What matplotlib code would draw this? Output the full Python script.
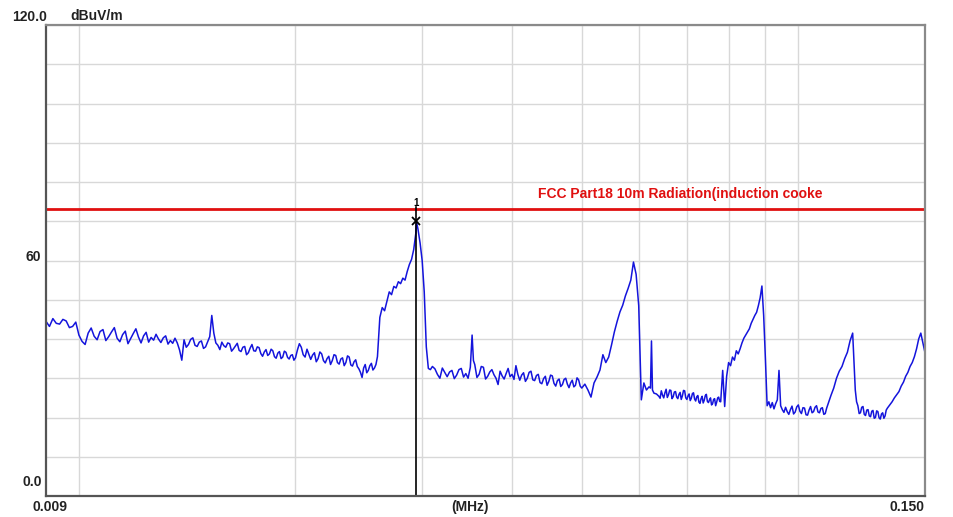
import numpy as np
import matplotlib
matplotlib.use("Agg")
import matplotlib.pyplot as plt

plt.rcParams["font.family"] = ["Liberation Sans", "DejaVu Sans"]

# spectrum trace, (frequency in kHz, level in dBuV/m)
trace_9_20 = [(9.0, 44.5), (9.1, 43.2), (9.2, 45.2), (9.3, 44.0), (9.4, 43.8), (9.5, 45.0),
              (9.6, 44.6), (9.7, 42.9), (9.8, 43.2), (9.9, 44.3), (10.0, 41.0), (10.1, 39.4),
              (10.2, 38.6), (10.3, 41.5), (10.4, 42.8), (10.5, 40.7), (10.6, 39.8), (10.7, 41.9),
              (10.8, 42.4), (10.9, 39.6), (11.0, 40.6), (11.1, 41.8), (11.2, 42.9), (11.3, 40.2),
              (11.4, 39.3), (11.5, 41.1), (11.6, 42.0), (11.7, 38.8), (11.8, 40.1), (11.9, 41.4),
              (12.0, 42.6), (12.1, 40.5), (12.2, 39.0), (12.3, 40.8), (12.4, 41.7), (12.5, 39.2),
              (12.6, 40.4), (12.7, 39.7), (12.8, 41.2), (12.9, 40.0), (13.0, 39.1), (13.1, 40.3),
              (13.2, 40.8), (13.3, 38.7), (13.4, 39.6), (13.5, 38.9), (13.6, 40.2), (13.7, 39.0),
              (13.8, 37.2), (13.9, 34.6), (14.0, 39.8), (14.1, 37.9), (14.2, 38.6), (14.3, 39.9),
              (14.4, 40.3), (14.5, 38.4), (14.6, 38.1), (14.7, 39.2), (14.8, 39.5), (14.9, 37.6),
              (15.0, 38.0), (15.1, 39.3), (15.2, 40.6), (15.3, 46.0), (15.4, 41.5), (15.5, 39.0),
              (15.6, 38.4), (15.7, 37.3), (15.8, 39.2), (15.9, 38.3), (16.0, 37.9), (16.1, 39.0),
              (16.2, 38.8), (16.3, 36.9), (16.4, 37.5), (16.5, 38.2), (16.6, 38.9), (16.7, 37.1),
              (16.8, 36.8), (16.9, 37.9), (17.0, 38.1), (17.1, 36.0), (17.2, 36.5), (17.3, 37.7),
              (17.4, 38.6), (17.5, 37.0), (17.6, 36.9), (17.7, 38.0), (17.8, 37.8), (17.9, 36.3),
              (18.0, 35.6), (18.1, 36.7), (18.2, 37.3), (18.3, 35.8), (18.4, 36.2), (18.5, 37.4),
              (18.6, 37.0), (18.7, 35.5), (18.8, 35.1), (18.9, 36.4), (19.0, 36.8), (19.1, 35.0),
              (19.2, 35.4), (19.3, 36.9), (19.4, 36.6), (19.5, 35.3), (19.6, 34.9), (19.7, 35.8),
              (19.8, 36.0), (19.9, 34.6), (20.0, 35.2)]
trace_20_26 = [(20.125, 37.2), (20.25, 38.8), (20.375, 37.9), (20.5, 36.0), (20.625, 35.4),
               (20.75, 37.4), (20.875, 36.1), (21.0, 34.8), (21.125, 35.9), (21.25, 36.5),
               (21.375, 34.2), (21.5, 35.0), (21.625, 36.7), (21.75, 36.2), (21.875, 34.5),
               (22.0, 33.9), (22.125, 35.0), (22.25, 35.6), (22.375, 33.5), (22.5, 34.5),
               (22.625, 36.0), (22.75, 35.8), (22.875, 34.0), (23.0, 33.6), (23.125, 34.9),
               (23.25, 35.2), (23.375, 33.2), (23.5, 34.0), (23.625, 35.7), (23.75, 35.4),
               (23.875, 33.4), (24.0, 33.1), (24.125, 34.2), (24.25, 34.7), (24.375, 33.0),
               (24.5, 32.4), (24.625, 31.5), (24.75, 30.2), (24.875, 32.6), (25.0, 33.5),
               (25.125, 31.4), (25.25, 32.0), (25.375, 33.2), (25.5, 33.8), (25.625, 32.1),
               (25.75, 32.6), (25.875, 33.5), (26.0, 35.5)]
trace_26_31 = [(26.2, 45.5), (26.4, 48.0), (26.6, 47.2), (26.8, 49.6), (27.0, 52.0), (27.2, 51.3),
               (27.4, 53.4), (27.6, 53.0), (27.8, 54.6), (28.0, 54.1), (28.2, 55.5), (28.4, 55.0),
               (28.6, 57.2), (28.8, 59.0), (29.0, 60.3), (29.2, 62.8), (29.4, 67.0), (29.45, 70.0),
               (29.6, 68.0), (29.8, 64.5), (30.0, 60.0), (30.2, 52.0), (30.4, 38.0), (30.6, 32.5),
               (30.8, 32.2), (31.0, 33.0)]
trace_31_50 = [(31.25, 32.4), (31.5, 31.0), (31.75, 30.0), (32.0, 32.6), (32.25, 31.5),
               (32.5, 30.4), (32.75, 31.6), (33.0, 32.0), (33.25, 29.9), (33.5, 30.8),
               (33.75, 32.2), (34.0, 32.5), (34.25, 30.3), (34.5, 31.2), (34.75, 30.0),
               (35.0, 32.8), (35.2, 41.0), (35.35, 34.5), (35.5, 33.5), (35.75, 30.2),
               (36.0, 31.0), (36.25, 33.0), (36.5, 32.8), (36.75, 29.8), (37.0, 30.5),
               (37.25, 31.6), (37.5, 32.2), (37.75, 30.9), (38.0, 30.0), (38.25, 28.4),
               (38.5, 31.8), (38.75, 30.6), (39.0, 29.8), (39.25, 31.2), (39.5, 32.5),
               (39.75, 30.4), (40.0, 31.0), (40.25, 29.7), (40.5, 33.2), (40.75, 31.0),
               (41.0, 29.5), (41.25, 30.8), (41.5, 31.4), (41.75, 29.2), (42.0, 30.0),
               (42.25, 31.5), (42.5, 31.8), (42.75, 29.6), (43.0, 29.4), (43.25, 30.7),
               (43.5, 31.0), (43.75, 28.9), (44.0, 28.6), (44.25, 29.9), (44.5, 30.5),
               (44.75, 28.2), (45.0, 29.2), (45.25, 30.8), (45.5, 30.6), (45.75, 28.7),
               (46.0, 28.0), (46.25, 29.4), (46.5, 29.8), (46.75, 27.9), (47.0, 28.4),
               (47.25, 29.7), (47.5, 30.0), (47.75, 28.5), (48.0, 27.6), (48.25, 28.8),
               (48.5, 29.5), (48.75, 27.8), (49.0, 28.2), (49.25, 30.1), (49.5, 29.6),
               (49.75, 28.0), (50.0, 27.5)]
trace_50_64 = [(50.5, 28.5), (51.0, 27.0), (51.5, 25.2), (52.0, 28.8), (52.5, 30.3), (53.0, 32.1),
               (53.5, 36.0), (54.0, 34.0), (54.5, 35.4), (55.0, 38.5), (55.5, 41.8), (56.0, 44.5),
               (56.5, 46.9), (57.0, 48.6), (57.5, 51.0), (58.0, 52.9), (58.5, 55.0), (59.0, 59.6),
               (59.5, 56.5), (60.0, 48.5), (60.5, 24.5), (61.0, 28.8), (61.5, 27.0), (62.0, 27.8),
               (62.3, 27.5), (62.5, 39.5), (62.7, 27.0), (63.0, 26.2), (63.5, 26.0), (64.0, 25.4)]
trace_64_78 = [(64.25, 24.9), (64.5, 26.8), (64.75, 25.7), (65.0, 25.0), (65.25, 26.3),
               (65.5, 27.2), (65.75, 25.1), (66.0, 25.8), (66.25, 27.0), (66.5, 26.9),
               (66.75, 24.8), (67.0, 25.3), (67.25, 26.5), (67.5, 26.6), (67.75, 25.2),
               (68.0, 24.8), (68.25, 25.9), (68.5, 26.4), (68.75, 24.6), (69.0, 25.5),
               (69.25, 26.9), (69.5, 26.8), (69.75, 25.0), (70.0, 24.6), (70.25, 25.5),
               (70.5, 26.0), (70.75, 24.3), (71.0, 24.9), (71.25, 26.1), (71.5, 26.3),
               (71.75, 24.7), (72.0, 24.2), (72.25, 25.3), (72.5, 25.6), (72.75, 23.9),
               (73.0, 23.6), (73.25, 24.8), (73.5, 25.4), (73.75, 23.7), (74.0, 24.4),
               (74.25, 25.6), (74.5, 25.9), (74.75, 24.1), (75.0, 23.8), (75.25, 24.5),
               (75.5, 25.0), (75.75, 23.2), (76.0, 23.5), (76.25, 24.6), (76.5, 24.8),
               (76.75, 23.0), (77.0, 23.9), (77.25, 25.0), (77.5, 25.2), (77.75, 24.1),
               (78.0, 24.0)]
trace_78_95 = [(78.5, 32.0), (79.0, 22.8), (79.5, 30.5), (80.0, 34.0), (80.5, 33.2), (81.0, 35.4),
               (81.5, 34.6), (82.0, 37.0), (82.5, 36.2), (83.0, 37.5), (83.5, 39.0), (84.0, 40.2),
               (84.5, 41.0), (85.0, 41.8), (85.5, 42.6), (86.0, 44.0), (86.5, 45.0), (87.0, 46.0),
               (87.5, 46.8), (88.0, 48.5), (88.5, 50.5), (89.0, 53.5), (89.5, 46.0), (90.0, 35.0),
               (90.5, 23.0), (91.0, 24.0), (91.5, 22.5), (92.0, 23.8), (92.5, 22.2), (93.0, 23.5),
               (93.5, 24.5), (94.0, 32.0), (94.5, 23.0), (95.0, 22.0)]
trace_95_150 = [(95.5, 21.3), (96, 22.6), (96.5, 21.5), (97, 20.8), (97.5, 22.0), (98, 22.9),
                (98.5, 20.9), (99, 21.4), (99.5, 22.7), (100, 23.2), (100.5, 21.6), (101, 21.0),
                (101.5, 22.5), (102, 22.4), (102.5, 20.7), (103, 20.6), (103.5, 21.9), (104, 22.8),
                (104.5, 21.2), (105, 21.5), (105.5, 22.6), (106, 23.0), (106.5, 21.4), (107, 21.2),
                (107.5, 22.3), (108, 22.5), (108.5, 20.8), (109, 21.0), (109.5, 22.4), (110, 23.5),
                (111, 25.6), (112, 27.5), (113, 30.0), (114, 31.8), (115, 33.0), (116, 35.0),
                (117, 36.6), (118, 39.5), (119, 41.5), (120, 27.0), (120.5, 24.0), (121, 23.0),
                (121.5, 21.0), (122, 21.2), (122.5, 22.6), (123, 22.8), (123.5, 20.8), (124, 20.5),
                (124.5, 21.9), (125, 22.0), (125.5, 20.4), (126, 20.2), (126.5, 21.6), (127, 21.8),
                (127.5, 19.8), (128, 20.0), (128.5, 21.7), (129, 21.5), (129.5, 19.9), (130, 19.6),
                (130.5, 20.9), (131, 21.2), (131.5, 19.8), (132, 20.4), (132.5, 21.9), (133, 22.4),
                (134, 23.2), (135, 24.0), (136, 25.0), (137, 25.8), (138, 26.6), (139, 28.0),
                (140, 29.0), (141, 30.5), (142, 31.5), (143, 33.0), (144, 34.0), (145, 35.5),
                (146, 37.5), (147, 40.0), (148, 41.5), (149, 39.0), (150, 36.5)]

limit_db = 73.1                 # FCC Part18 line
marker_khz, marker_db = 29.45, 70.0
grid_mhz = [0.01, 0.02, 0.03, 0.04, 0.05, 0.06, 0.07, 0.08, 0.09, 0.1]
grid_db = list(range(0, 121, 10))
limit_label = "FCC Part18 10m Radiation(induction cooke"

trace = (trace_9_20 + trace_20_26 + trace_26_31 + trace_31_50
         + trace_50_64 + trace_64_78 + trace_78_95 + trace_95_150)
freq_khz, level_db = zip(*trace)
freq_mhz = np.array(freq_khz) / 1000.0

W, H = 954, 517
fig = plt.figure(figsize=(W / 100, H / 100), dpi=100)
ax = fig.add_axes([46 / W, 21 / H, 879 / W, 471 / H])

ax.plot(freq_mhz, level_db, color="#1414dc", lw=1.1)
ax.axhline(limit_db, color="#e01010", lw=2.0)
mk = marker_khz / 1000.0
ax.plot([mk, mk], [0, limit_db + 0.6], color="black", lw=1.2)
ax.plot(mk, marker_db, marker="x", color="black", ms=6, mew=1.3)
ax.text(mk, limit_db + 0.3, "1", ha="center", va="bottom", fontsize=7, fontweight="bold")

ax.set_xscale("log")
ax.set_xlim(0.009, 0.15)
ax.set_ylim(0, 120)
ax.set_xticks(grid_mhz)
ax.set_xticks([], minor=True)
ax.set_yticks(grid_db)
ax.tick_params(which="both", length=0, labelbottom=False, labelleft=False)
ax.grid(True, color="#d8d8d8", lw=1.0)
ax.set_axisbelow(True)
for side in ["top", "right"]:
    ax.spines[side].set_color("#8a8a8a")
    ax.spines[side].set_linewidth(1.6)
for side in ["left", "bottom"]:
    ax.spines[side].set_color("#555555")
    ax.spines[side].set_linewidth(1.6)


def label(x, y, s, ha="left", color="#222222", size=10):
    fig.text(x / W, 1 - y / H, s, ha=ha, va="center", fontsize=size,
             fontweight="bold", color=color)


label(12, 17, "120.0")
label(70, 16, "dBuV/m")
label(41, 257, "60", ha="right")
label(42, 482, "0.0", ha="right")
label(33, 507, "0.009")
label(470, 507, "(MHz)", ha="center")
label(925, 507, "0.150", ha="right")
label(538, 194, limit_label, color="#e01010", size=10)

fig.savefig("out.png", dpi=100)
